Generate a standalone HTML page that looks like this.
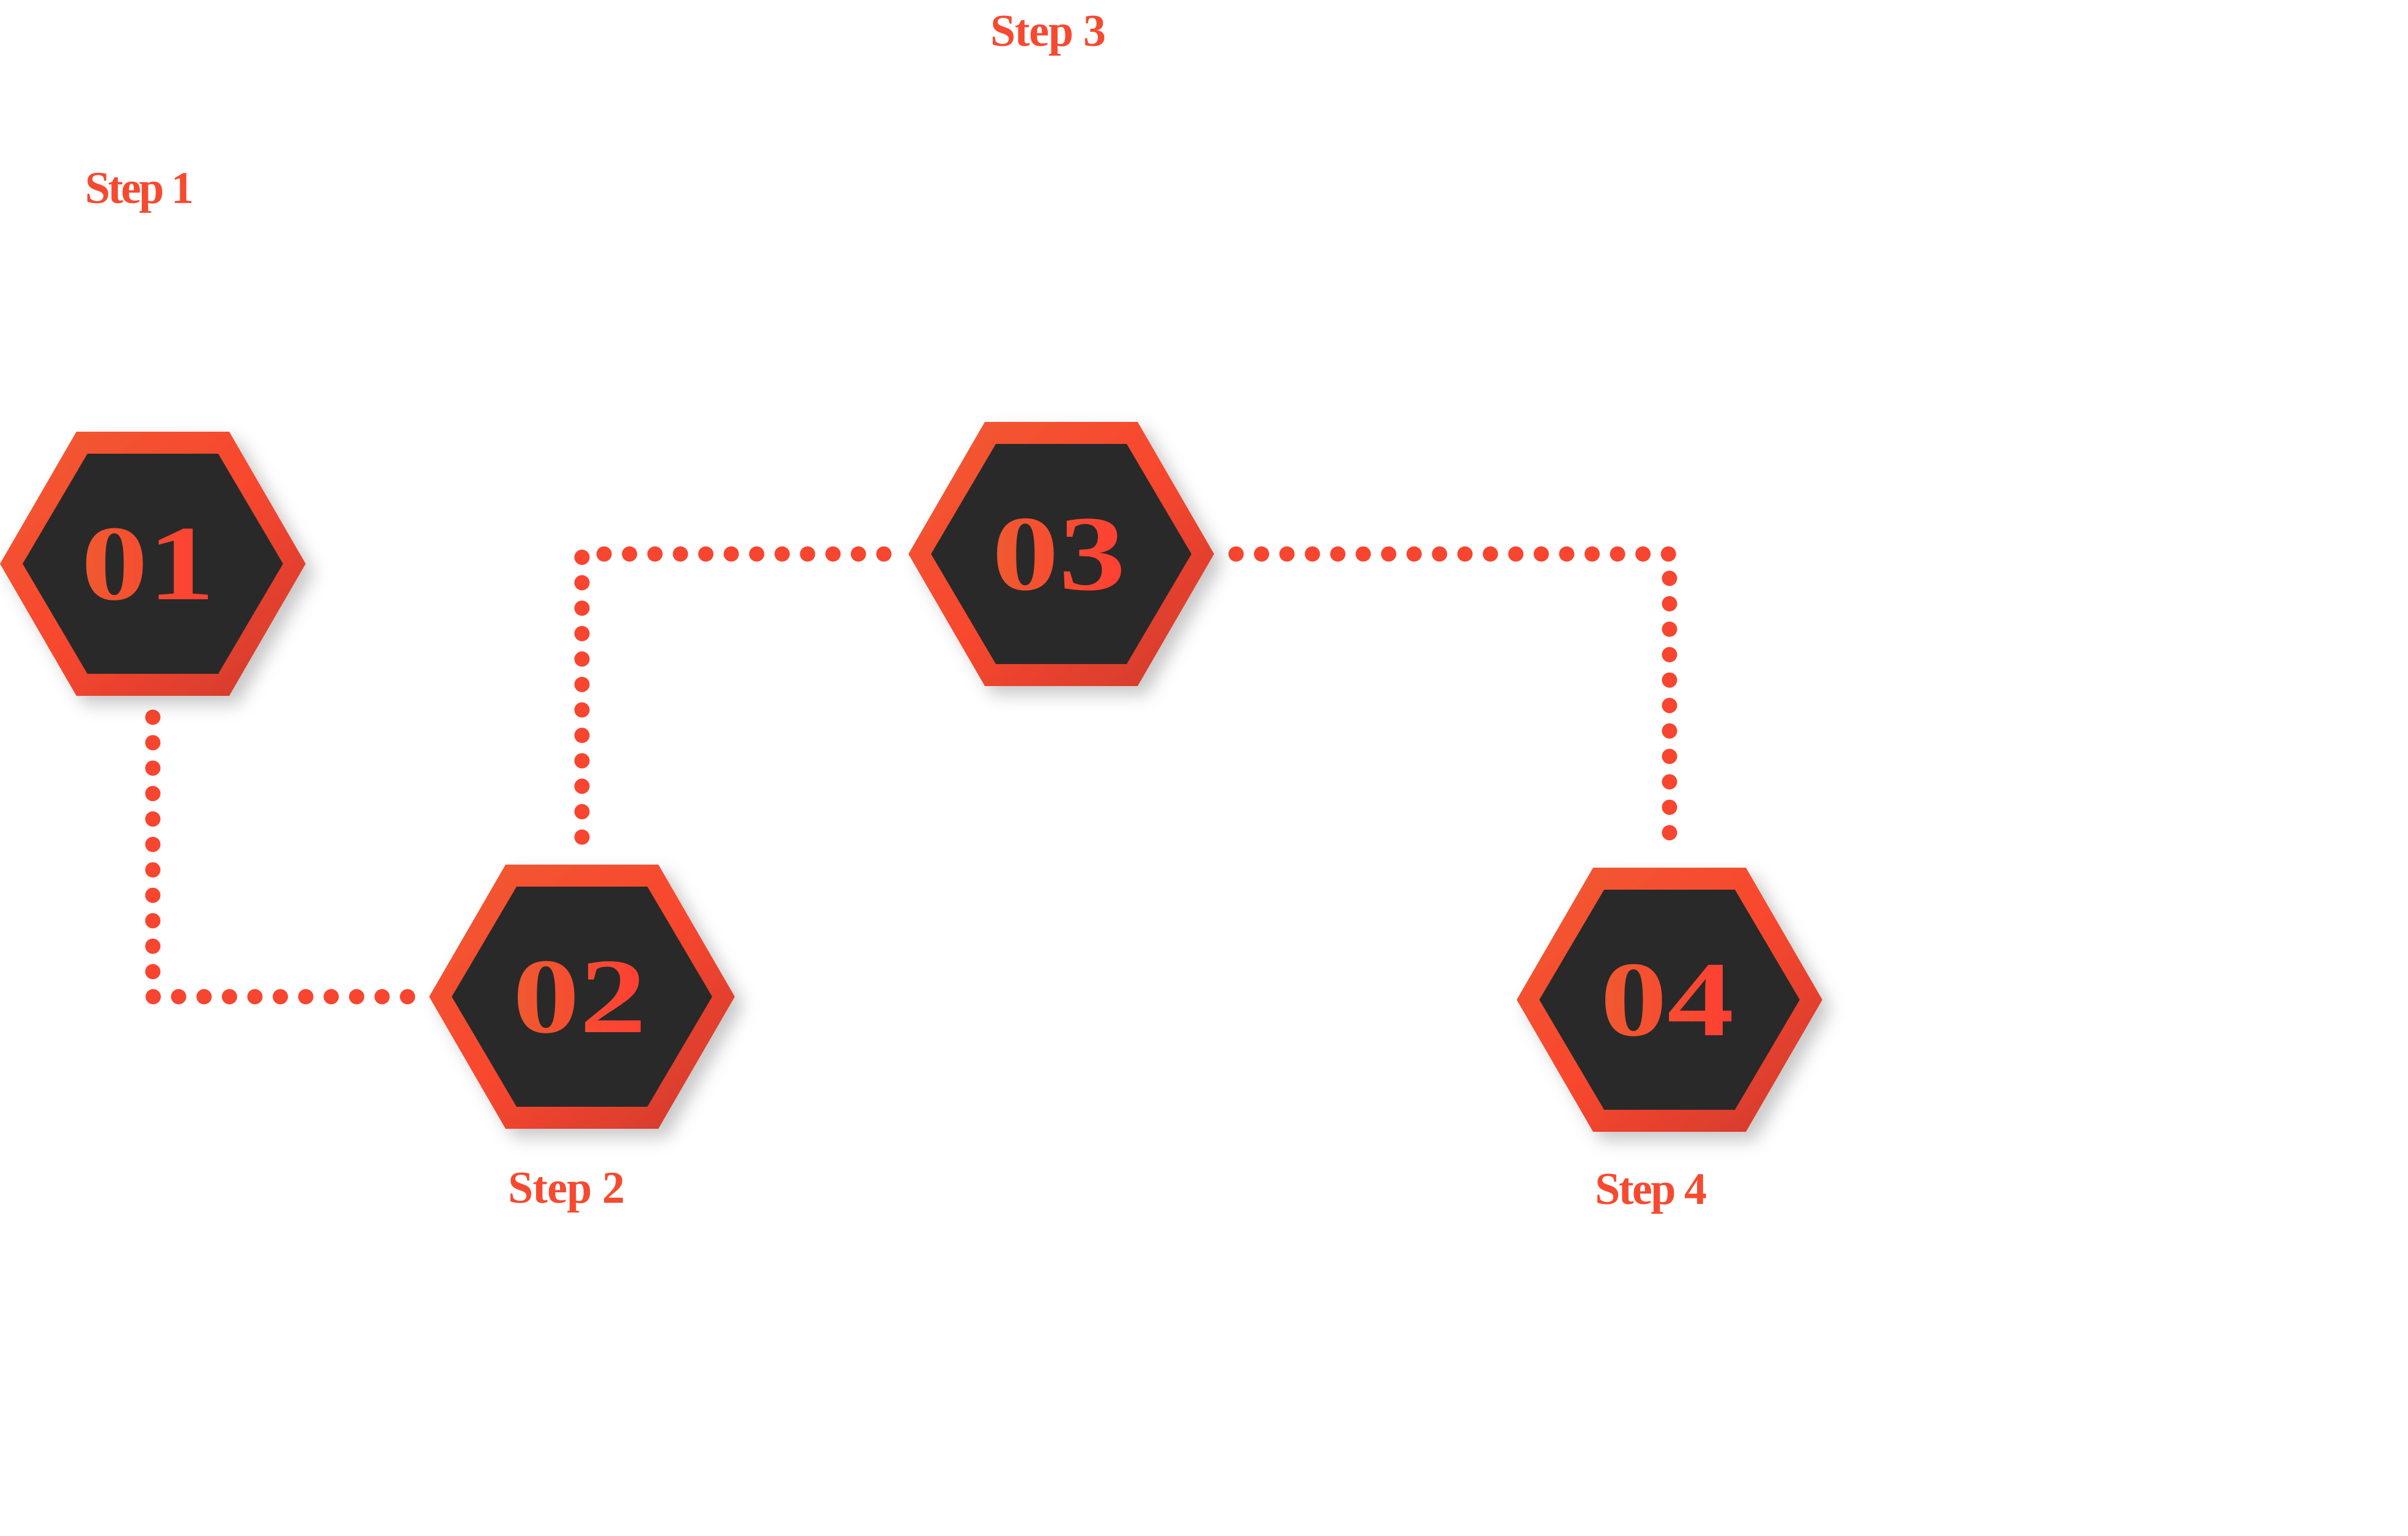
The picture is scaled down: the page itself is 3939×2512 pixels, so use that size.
<!DOCTYPE html>
<html><head><meta charset="utf-8"><style>
html,body{margin:0;padding:0;background:#fff;}
svg{display:block;}
</style></head><body>
<svg width="3939" height="2512" viewBox="0 0 3939 2512" xmlns="http://www.w3.org/2000/svg">
<defs>
<linearGradient id="bg" x1="0" y1="0" x2="1" y2="1">
<stop offset="0" stop-color="#f05a30"/>
<stop offset="0.5" stop-color="#f8472f"/>
<stop offset="1" stop-color="#cf3a2c"/>
</linearGradient>
<linearGradient id="tg" x1="0" y1="0" x2="1" y2="0">
<stop offset="0" stop-color="#ee5a30"/>
<stop offset="1" stop-color="#ff3f33"/>
</linearGradient>
<filter id="sh" x="-20%" y="-20%" width="150%" height="150%">
<feDropShadow dx="14" dy="14" stdDeviation="14" flood-color="#000" flood-opacity="0.22"/>
</filter>
<g id="hex">
<polygon points="-250,0 -125,-216 125,-216 250,0 125,216 -125,216" fill="url(#bg)" filter="url(#sh)"/>
<polygon points="-213,0 -107,-180 107,-180 213,0 107,180 -107,180" fill="#292929"/>
</g>
</defs>
<g stroke="#f8452f" stroke-width="25" stroke-linecap="round" stroke-dasharray="0 41.6" fill="none">
<path d="M250 1173 L250 1630 L675 1630"/>
<path d="M952 1369 L952 906 L1457 906"/>
<path d="M2022 906 L2731 906 L2731 1372"/>
</g>
<use href="#hex" x="250" y="922"/>
<use href="#hex" x="952" y="1630"/>
<use href="#hex" x="1736" y="906"/>
<use href="#hex" x="2731" y="1635"/>
<g font-family="'Liberation Serif', serif" font-weight="bold" fill="url(#tg)" text-anchor="middle" font-size="175">
<text x="0" y="0" transform="translate(242,980) scale(1.25,1)">01</text>
<text x="0" y="0" transform="translate(948,1688) scale(1.25,1)">02</text>
<text x="0" y="0" transform="translate(1732,964) scale(1.25,1)">03</text>
<text x="0" y="0" transform="translate(2727,1693) scale(1.25,1)">04</text>
</g>
<g font-family="'Liberation Serif', serif" font-weight="bold" fill="#f64a30" font-size="74">
<text x="139" y="332" textLength="178">Step 1</text>
<text x="1620" y="75" textLength="189">Step 3</text>
<text x="831" y="1967" textLength="191">Step 2</text>
<text x="2609" y="1969" textLength="183">Step 4</text>
</g>
</svg>
</body></html>
